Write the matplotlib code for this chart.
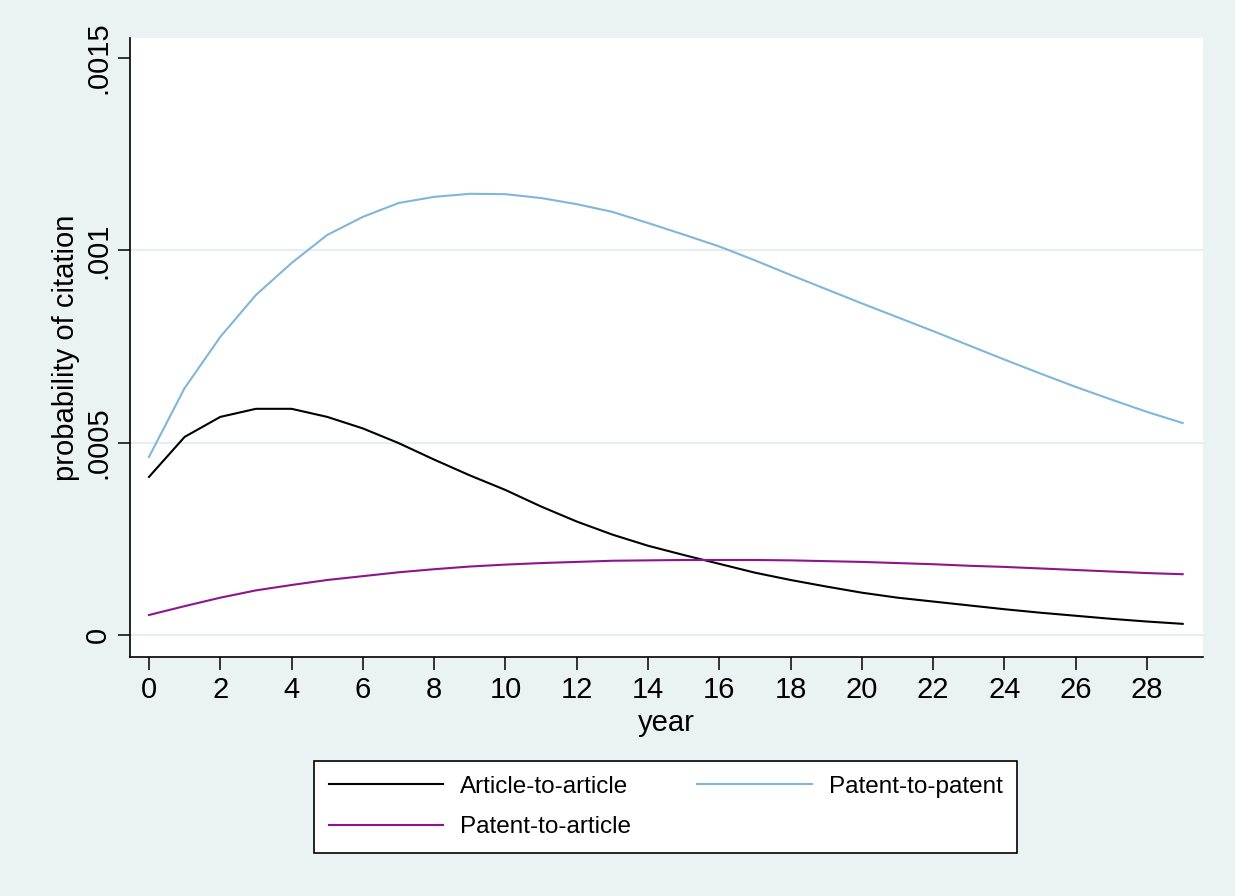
import matplotlib
matplotlib.use("Agg")
import matplotlib.pyplot as plt

plt.rcParams["font.family"] = ["Liberation Sans", "DejaVu Sans"]

# Years since publication
years = list(range(30))

# Estimated citation probabilities by year
article_to_article = [
    0.000411, 0.000515, 0.000567, 0.000588, 0.000588, 0.000567, 0.000537, 0.000499,
    0.000456, 0.000415, 0.000377, 0.000334, 0.000295, 0.000261, 0.000232, 0.000208,
    0.000185, 0.000162, 0.000143, 0.000126, 0.000110, 0.000097, 0.000087, 0.000077,
    0.000067, 0.000058, 0.000050, 0.000042, 0.000035, 0.000029,
]
patent_to_patent = [
    0.000463, 0.000642, 0.000775, 0.000884, 0.000967, 0.001040, 0.001087, 0.001123,
    0.001139, 0.001147, 0.001146, 0.001136, 0.001120, 0.001100, 0.001071, 0.001041,
    0.001010, 0.000974, 0.000936, 0.000899, 0.000862, 0.000826, 0.000790, 0.000753,
    0.000716, 0.000680, 0.000645, 0.000612, 0.000580, 0.000551,
]
patent_to_article = [
    0.000052, 0.000075, 0.000097, 0.000116, 0.000130, 0.000143, 0.000153, 0.000163,
    0.000171, 0.000178, 0.000183, 0.000187, 0.000190, 0.000193, 0.000194, 0.000195,
    0.000195, 0.000195, 0.000194, 0.000192, 0.000190, 0.000187, 0.000184, 0.000180,
    0.000177, 0.000173, 0.000169, 0.000165, 0.000161, 0.000158,
]

series_labels = ["Article-to-article", "Patent-to-patent", "Patent-to-article"]
series_colors = ["#000000", "#80B6DA", "#8E148E"]

x_ticks = list(range(0, 29, 2))
y_ticks = [0, 0.0005, 0.001, 0.0015]
y_tick_labels = ["0", ".0005", ".001", ".0015"]

bg = "#EAF2F3"
grid_color = "#E6EEF0"

fig = plt.figure(figsize=(12.35, 8.96), dpi=100, facecolor=bg)
ax = fig.add_axes([130 / 1235, 1 - 657 / 896, (1203 - 130) / 1235, (657 - 38) / 896])
ax.set_facecolor("white")

for yv in y_ticks[:-1]:
    ax.axhline(yv, color=grid_color, lw=1.6, zorder=1)

handles = []
for vals, lab, col in zip([article_to_article, patent_to_patent, patent_to_article],
                          series_labels, series_colors):
    (h,) = ax.plot(years, vals, color=col, lw=1.5, label=lab, zorder=3)
    handles.append(h)

ax.set_xlim(-0.533, 29.57)
ax.set_ylim(-0.0000572, 0.001552)

ax.set_xticks(x_ticks)
ax.set_xticklabels([str(t) for t in x_ticks])
ax.set_yticks(y_ticks)
ax.set_yticklabels(y_tick_labels)

for side in ["top", "right"]:
    ax.spines[side].set_visible(False)
for side in ["left", "bottom"]:
    ax.spines[side].set_linewidth(1.2)
    ax.spines[side].set_color("#000000")

ax.tick_params(axis="both", direction="out", length=9, width=1.1, labelsize=21,
               color="#000000", pad=5)
ax.tick_params(axis="y", labelrotation=90, pad=4)
for lbl in ax.get_yticklabels():
    lbl.set_verticalalignment("center")

ax.set_xlabel("year", fontsize=21, labelpad=3)
ax.set_ylabel("probability of citation", fontsize=21, labelpad=3)

# Legend below the plot, in a framed box
leg = fig.legend(
    [handles[0], handles[2], handles[1]],
    [series_labels[0], series_labels[2], series_labels[1]],
    loc="center",
    bbox_to_anchor=(314 / 1235, 1 - 857 / 896, 703 / 1235, 100 / 896),
    mode="expand",
    ncol=2,
    fontsize=17.5,
    frameon=True,
    fancybox=False,
    edgecolor="#000000",
    facecolor="white",
    framealpha=1,
    handlelength=4.7,
    handletextpad=0.7,
    borderpad=0.6,
    labelspacing=0.75,
    borderaxespad=0,
)
leg.get_frame().set_linewidth(1.2)

fig.savefig("out.png", dpi=100, facecolor=bg)
